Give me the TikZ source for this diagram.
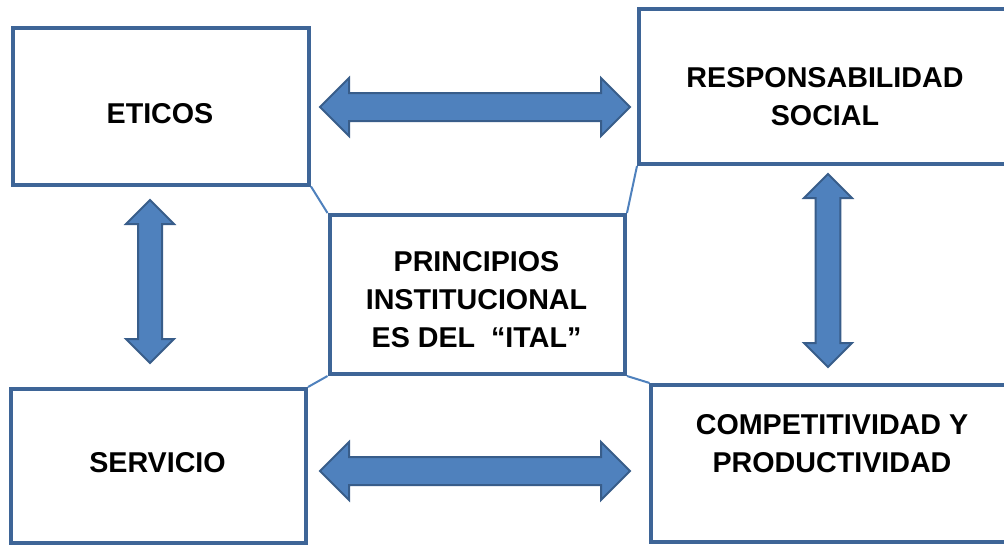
\documentclass[tikz,border=0pt]{standalone}
\usepackage{fontspec}
\setmainfont{Liberation Sans}
\usetikzlibrary{shapes.arrows,positioning}
\definecolor{boxblue}{HTML}{3E6597}
\definecolor{arrowfill}{HTML}{4F81BD}
\definecolor{arrowline}{HTML}{385D8A}

\begin{document}
\begin{tikzpicture}[x=0.75pt,y=-0.75pt,
    box/.style={draw=boxblue, line width=3pt, inner sep=0pt},
    lbl/.style={align=center, font=\fontsize{21.5}{28.5}\selectfont\bfseries},
    link/.style={draw=arrowfill, line width=1.5pt},
    dblarrow/.style={double arrow, draw=arrowline, fill=arrowfill, line width=1.5pt,
        double arrow tip angle=90}]
                \fill[white] (0,0) rectangle (1004,546);
                \clip (0,0) rectangle (1004,546);
                \node[box, minimum width=222pt, minimum height=117.75pt] (eticos) at (161,106) {};
                \node[box, minimum width=221.6pt, minimum height=119.25pt] (centro) at (477.25,294.5) {};
                \node[box, minimum width=278.25pt, minimum height=116.25pt] (resp) at (824.5,86.5) {};
                \node[box, minimum width=220.9pt, minimum height=115.5pt] (servicio) at (158.75,466) {};
                \node[box, minimum width=268.9pt, minimum height=117.4pt] (comp) at (830.75,463.25) {};

                \node[lbl] (teticos) at (160,113.5) {ETICOS};
                \node[lbl] (tcentro) at (476.5,299.5) {PRINCIPIOS\\INSTITUCIONAL\\ES DEL~~“ITAL”};
                \node[lbl] (tresp) at (825,96.5) {RESPONSABILIDAD\\SOCIAL};
                \node[lbl] (tservicio) at (157.5,462.5) {SERVICIO};
                \node[lbl] (tcomp) at (832,444) {COMPETITIVIDAD Y\\PRODUCTIVIDAD};

                % corner links
                \draw[link] (eticos.south east) -- (centro.north west);
                \draw[link] (centro.north east) -- (resp.south west);
                \draw[link] (centro.south west) -- (servicio.north east);
                \draw[link] (centro.south east) -- (comp.north west);

                % block arrows
                \node[dblarrow, inner sep=9.75pt, minimum height=232.5pt, minimum width=42pt, double arrow head extend=11.25pt] (arriba) at (475,107) {};
                \node[dblarrow, inner sep=9.75pt, minimum height=232.5pt, minimum width=42pt, double arrow head extend=11.25pt] (abajo) at (475,471) {};
                \node[dblarrow, inner sep=8.25pt, shape border rotate=90, minimum height=122.25pt, minimum width=34.5pt, double arrow head extend=9pt] (izq) at (150,281.5) {};
                \node[dblarrow, inner sep=8.6pt, shape border rotate=90, minimum height=144.75pt, minimum width=34.5pt, double arrow head extend=8.65pt] (der) at (828,270.5) {};
            \end{tikzpicture}
\end{document}
